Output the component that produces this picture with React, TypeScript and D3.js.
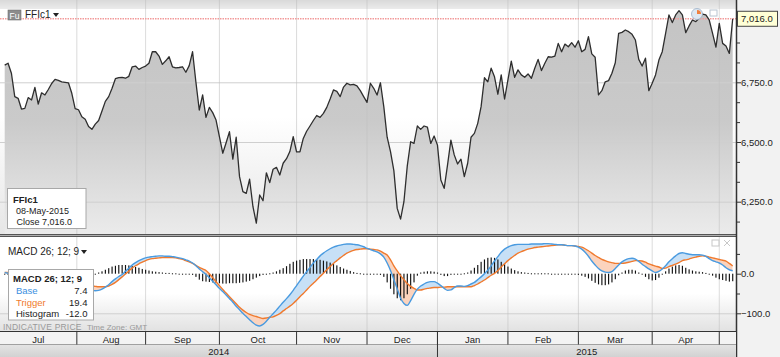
import React, { useEffect } from 'react';
import * as d3 from 'd3';

const W = 780;
const H = 357;

// FFIc1 daily close (Jul 2014 – 08 May 2015)
const price = [
  6822, 6830, 6788, 6690, 6683, 6638, 6641, 6686, 6676, 6729,
  6659, 6706, 6697, 6720, 6745, 6762, 6758, 6752, 6750, 6748,
  6704, 6640, 6635, 6606, 6595, 6565, 6553, 6575, 6590, 6630,
  6670, 6690, 6725, 6765, 6770, 6771, 6767, 6775, 6815, 6818,
  6804, 6812, 6818, 6830, 6878, 6878, 6860, 6825, 6840, 6857,
  6815, 6810, 6812, 6815, 6792, 6820, 6878, 6750, 6634, 6697,
  6603, 6645, 6623, 6592, 6522, 6453, 6497, 6543, 6428, 6520,
  6355, 6292, 6285, 6344, 6229, 6160, 6278, 6254, 6371, 6330,
  6386, 6394, 6362, 6411, 6430, 6460, 6522, 6459, 6459, 6515,
  6545, 6567, 6590, 6611, 6603, 6620, 6645, 6680, 6718, 6712,
  6690, 6730, 6746, 6739, 6741, 6735, 6715, 6690, 6666, 6746,
  6725, 6697, 6748, 6648, 6520, 6460, 6380, 6222, 6177, 6250,
  6400, 6501, 6494, 6567, 6553, 6567, 6562, 6494, 6525, 6487,
  6341, 6306, 6404, 6508, 6446, 6408, 6428, 6355, 6411, 6520,
  6536, 6578, 6648, 6769, 6752, 6809, 6773, 6700, 6781, 6680,
  6760, 6839, 6771, 6802, 6781, 6771, 6785, 6767, 6809, 6846,
  6799, 6830, 6857, 6855, 6860, 6913, 6878, 6910, 6899, 6916,
  6897, 6924, 6878, 6888, 6941, 6869, 6855, 6697, 6715, 6752,
  6757, 6788, 6832, 6955, 6959, 6969, 6962, 6951, 6927, 6846,
  6818, 6851, 6715, 6746, 6781, 6843, 6878, 6955, 7032, 7000,
  7032, 7050, 7032, 6958, 6986, 7011, 7004, 7018, 7036, 7032,
  7011, 6955, 6897, 6997, 6913, 6902, 6871, 7016,
];

const macdBase = [
  3, 1, -1, -3, -5, -6, -7, -9, -10, -12,
  -13, -14, -16, -17, -19, -20, -22, -24, -26, -28,
  -30, -32, -34, -36, -38, -40, -42, -43, -42, -39,
  -34, -28, -20, -13, -7, -2, 6, 14, 22, 28,
  33, 37, 40, 42, 43, 44, 45, 45, 44, 44,
  43, 42, 40, 38, 35, 32, 27, 20, 12, 5,
  -2, -10, -19, -28, -37, -45, -54, -63, -72, -82,
  -91, -100, -108, -116, -124, -130, -132, -128, -120, -110,
  -101, -92, -82, -72, -63, -53, -42, -30, -18, -6,
  5, 16, 27, 36, 45, 52, 58, 63, 67, 70,
  72, 74, 75, 75, 74, 73, 71, 68, 64, 61,
  58, 55, 50, 42, 27, 8, -15, -38, -62, -75,
  -80, -68, -52, -39, -31, -26, -22, -20, -20, -24,
  -30, -37, -42, -41, -35, -31, -31, -32, -30, -26,
  -22, -15, -8, 0, 9, 20, 32, 43, 54, 62,
  67, 71, 73, 74, 74, 74, 74, 75, 75, 75,
  75, 76, 76, 75, 74, 73, 73, 72, 71, 71,
  70, 67, 62, 54, 44, 32, 22, 13, 7, 4,
  3, 5, 13, 22, 30, 35, 38, 39, 37, 31,
  24, 18, 12, 7, 3, 6, 12, 20, 30, 38,
  45, 51, 53, 51, 49, 48, 48, 48, 47, 44,
  38, 33, 30, 27, 22, 15, 10, 7.4,
];

const macdTrigger = [
  3, 3, 2, 1, 1, 0, -1, -2, -2, -3,
  -4, -5, -6, -8, -9, -10, -12, -14, -16, -17,
  -19, -21, -23, -25, -27, -29, -31, -32, -33, -33,
  -33, -31, -27, -22, -15, -8, -1, 7, 14, 20,
  25, 29, 33, 36, 38, 39, 40, 41, 41, 41,
  41, 40, 38, 36, 33, 30, 26, 21, 16, 12,
  8, 0, -10, -20, -30, -40, -49, -58, -67, -76,
  -85, -92, -98, -103, -106, -108, -111, -113, -112, -110,
  -109, -105, -101, -94, -88, -82, -75, -67, -58, -50,
  -41, -32, -24, -16, -7, 1, 10, 18, 26, 33,
  40, 46, 52, 56, 59, 61, 62, 63, 63, 62,
  61, 60, 57, 52, 47, 35, 20, 7, -5, -15,
  -25, -32, -37, -41, -41, -39, -37, -36, -35, -35,
  -34, -34, -33, -33, -33, -33, -33, -33, -33, -33,
  -30, -26, -21, -16, -10, -4, 1, 8, 17, 25,
  33, 40, 46, 52, 56, 59, 62, 64, 66, 67,
  68, 69, 70, 71, 72, 73, 73, 72, 71, 71,
  70, 69, 67, 63, 58, 52, 46, 41, 36, 33,
  30, 28, 26, 26, 26, 27, 29, 31, 33, 33,
  32, 29, 25, 22, 19, 17, 13, 14, 18, 21,
  24, 28, 33, 35, 37, 40, 42, 44, 45, 44,
  42, 40, 38, 36, 34, 32, 26, 19.4,
];

const macdHist = [
  -2, -3, -4, -5, -6, -7, -8, -9, -10, -10,
  -11, -11, -12, -12, -12, -12, -12, -12, -12, -12,
  -12, -12, -11, -10, -8, -6, -4, -1, 3, 6,
  10, 14, 18, 20, 22, 22, 22, 21, 19, 17,
  15, 12, 10, 8, 6, 5, 4, 3, 2, 2,
  1, 1, 0, 0, -1, -2, -3, -8, -15, -19,
  -20, -21, -22, -23, -24, -25, -25, -24, -24, -24,
  -23, -22, -20, -18, -14, -10, -6, -3, -1, 1,
  3, 6, 10, 14, 19, 25, 30, 33, 35, 37,
  37, 37, 37, 36, 35, 33, 31, 28, 25, 21,
  17, 13, 10, 7, 4, 2, 1, 0, 0, 0,
  0, -1, -3, -8, -22, -38, -52, -62, -67, -62,
  -52, -38, -22, -5, 3, 5, 6, 6, 5, 3,
  -3, -6, -6, -3, -1, 0, 0, 1, 3, 8,
  15, 22, 30, 36, 40, 41, 40, 36, 30, 24,
  18, 13, 9, 6, 4, 3, 2, 1, 1, 1,
  1, 1, 1, 0, 0, 0, 0, 0, -1, -1,
  -2, -3, -5, -8, -12, -18, -23, -27, -29, -29,
  -27, -22, -14, -4, 3, 8, 10, 10, 8, 3,
  -2, -8, -14, -17, -16, -10, -2, 6, 13, 18,
  21, 22, 20, 15, 11, 8, 6, 5, 4, 2,
  -1, -5, -10, -14, -16, -18, -20, -19,
];

const monthLabels = ['Jul', 'Aug', 'Sep', 'Oct', 'Nov', 'Dec', 'Jan', 'Feb', 'Mar', 'Apr', ''];
const monthStartIdx = [0, 21.5, 42, 64, 87, 108, 129, 150, 171, 193, 213];
const yearLabels = ['2014', '2015'];
const yearStartIdx = [0, 129];
const priceTicks = [6250, 6500, 6750];
const priceMinorTicks = [6166.7, 6333.3, 6416.7, 6583.3, 6666.7, 6833.3, 6916.7];
const macdTicks = [0, -100];
const macdMinorTicks = [50, -50];
const lastClose = 7016;
const legendValues = { base: '7.4', trigger: '19.4', hist: '-12.0' };

const FONT = "'Liberation Sans', Arial, sans-serif";

export default function App() {
  useEffect(() => {
    document.body.style.margin = '0';
  }, []);

  const plotR = 736;
  const priceTop = 0;
  const priceBot = 234;
  const macdTop = 237;
  const macdBot = 331;
  const axisTop = 331;

  const x = d3.scaleLinear().domain([0, price.length - 1]).range([4.7, 732.7]);
  const yP = d3.scaleLinear().domain([6250, 6750]).range([201.7, 82.3]);
  const yM = d3.scaleLinear().domain([-100, 0]).range([313.3, 273.7]);

  const idx = price.map((_, i) => i);

  const priceLine = d3.line<number>().x((i) => x(i)).y((i) => yP(price[i]))(idx) || '';
  const priceArea =
    d3.area<number>().x((i) => x(i)).y0(priceBot).y1((i) => yP(price[i]))(idx) || '';

  const curve = d3.curveMonotoneX;
  const baseLine = d3.line<number>().curve(curve).x((i) => x(i)).y((i) => yM(macdBase[i]))(idx) || '';
  const trigLine = d3.line<number>().curve(curve).x((i) => x(i)).y((i) => yM(macdTrigger[i]))(idx) || '';
  const btArea =
    d3
      .area<number>()
      .curve(curve)
      .x((i) => x(i))
      .y0((i) => yM(macdTrigger[i]))
      .y1((i) => yM(macdBase[i]))(idx) || '';
  const clipAboveTrig =
    d3.area<number>().curve(curve).x((i) => x(i)).y0(macdTop).y1((i) => yM(macdTrigger[i]))(idx) || '';
  const clipBelowTrig =
    d3.area<number>().curve(curve).x((i) => x(i)).y0(macdBot).y1((i) => yM(macdTrigger[i]))(idx) || '';

  const zeroY = yM(0);
  const gridX = monthStartIdx.slice(1).map((m) => x(m));
  const monthEdges = [0, ...monthStartIdx.slice(1).map((m) => x(m)), plotR];
  const yearEdges = [0, x(yearStartIdx[1]), plotR];

  return (
    <svg
      width={W}
      height={H}
      style={{ position: 'absolute', left: 0, top: 0, display: 'block' }}
      fontFamily={FONT}
    >
      <defs>
        <linearGradient id="pbg" x1="0" y1="0" x2="0" y2="1">
          <stop offset="0" stopColor="#ffffff" />
          <stop offset="0.5" stopColor="#ffffff" />
          <stop offset="1" stopColor="#e6e6e6" />
        </linearGradient>
        <linearGradient id="parea" gradientUnits="userSpaceOnUse" x1="0" y1="10" x2="0" y2="234">
          <stop offset="0" stopColor="#c4c4c4" />
          <stop offset="0.5" stopColor="#cacaca" />
          <stop offset="1" stopColor="#ebebeb" />
        </linearGradient>
        <linearGradient id="mbg" gradientUnits="userSpaceOnUse" x1="0" y1="237" x2="0" y2="331">
          <stop offset="0" stopColor="#ffffff" />
          <stop offset="0.6" stopColor="#ffffff" />
          <stop offset="1" stopColor="#e2e2e2" />
        </linearGradient>
        <linearGradient id="hdr" x1="0" y1="0" x2="0" y2="1">
          <stop offset="0" stopColor="#d9d9d9" />
          <stop offset="1" stopColor="#ebebeb" />
        </linearGradient>
        <linearGradient id="yearbg" x1="0" y1="0" x2="0" y2="1">
          <stop offset="0" stopColor="#e4e4e4" />
          <stop offset="1" stopColor="#d2d2d2" />
        </linearGradient>
        <clipPath id="clipP">
          <rect x={0} y={priceTop} width={plotR} height={priceBot - priceTop} />
        </clipPath>
        <clipPath id="clipM">
          <rect x={0} y={macdTop} width={plotR} height={macdBot - macdTop} />
        </clipPath>
        <clipPath id="clipAbove">
          <path d={clipAboveTrig} />
        </clipPath>
        <clipPath id="clipBelow">
          <path d={clipBelowTrig} />
        </clipPath>
      </defs>

      {/* backgrounds */}
      <rect x={0} y={0} width={W} height={H} fill="#f2f2f2" />
      <rect x={0} y={priceTop} width={plotR} height={priceBot - priceTop} fill="url(#pbg)" />
      <rect x={0} y={0} width={plotR} height={9} fill="url(#hdr)" />
      <rect x={0} y={macdTop} width={plotR} height={macdBot - macdTop} fill="url(#mbg)" />

      {/* price panel */}
      <g clipPath="url(#clipP)">
        <path d={priceArea} fill="url(#parea)" />
        {priceTicks.map((t) => (
          <line key={t} x1={0} x2={plotR} y1={yP(t) + 0.5} y2={yP(t) + 0.5} stroke="#cfcfcf" strokeWidth={1} />
        ))}
        {gridX.map((gx, i) => (
          <line key={i} x1={gx} x2={gx} y1={0} y2={priceBot} stroke="#bdbdbd" strokeOpacity={0.55} strokeWidth={1} />
        ))}
        <line
          x1={0}
          x2={plotR}
          y1={yP(lastClose)}
          y2={yP(lastClose)}
          stroke="#f39a9a"
          strokeWidth={1.6}
          strokeDasharray="1.5 1"
        />
        <path d={priceLine} fill="none" stroke="#2e2e2e" strokeWidth={1.3} strokeLinejoin="round" />
      </g>

      {/* header */}
      <rect x={8} y={10} width={13} height={10} fill="#8c8c8c" stroke="#6e6e6e" strokeWidth={0.6} />
      <text x={9.5} y={18.5} fontSize={8.5} fill="#ffffff">Fu</text>
      <text x={25} y={18} fontSize={10} fill="#222">FFIc1</text>
      <path d="M53,13 L59,13 L56,17 Z" fill="#222" />

      {/* small icons on price panel */}
      <circle cx={697} cy={14} r={5.5} fill="#dfe8f2" stroke="#9ab0c8" strokeWidth={0.8} />
      <path d="M697,14 L697,10 A4,4 0 0 1 701,14 Z" fill="#f08040" />
      <rect x={710} y={10} width={7} height={6} fill="none" stroke="#b8c4d0" strokeWidth={1} />

      {/* price info box */}
      <rect x={7.5} y={188.5} width={78.5} height={40} fill="#ffffff" stroke="#a8a8a8" strokeWidth={1} />
      <text x={13} y={202.5} fontSize={9.5} fontWeight="bold" fill="#222">FFIc1</text>
      <text x={16} y={214} fontSize={9} fill="#222">08-May-2015</text>
      <text x={16.5} y={225} fontSize={9} fill="#222">Close</text>
      <text x={42} y={225} fontSize={9} fill="#222">7,016.0</text>

      {/* panel separator */}
      <line x1={0} x2={plotR} y1={234.5} y2={234.5} stroke="#555" strokeWidth={1} />
      <line x1={0} x2={plotR} y1={235.5} y2={235.5} stroke="#b0b0b0" strokeWidth={1} />
      <line x1={0} x2={plotR} y1={236.5} y2={236.5} stroke="#555" strokeWidth={1} />

      {/* MACD panel */}
      <g clipPath="url(#clipM)">
        <line x1={0} x2={plotR} y1={yM(-100) + 0.5} y2={yM(-100) + 0.5} stroke="#cfcfcf" />
        {gridX.map((gx, i) => (
          <line key={i} x1={gx} x2={gx} y1={macdTop} y2={macdBot} stroke="#bdbdbd" strokeOpacity={0.55} />
        ))}
        <path d={btArea} fill="#c7e0f6" clipPath="url(#clipAbove)" />
        <path d={btArea} fill="#fbd3bd" clipPath="url(#clipBelow)" />
        {macdHist.map((v, i) => {
          const y1 = yM(v);
          const top = Math.min(y1, zeroY);
          const h = Math.max(1, Math.abs(y1 - zeroY));
          return <rect key={i} x={x(i) - 0.55} y={top} width={1.15} height={h} fill="#111" />;
        })}
        <path d={trigLine} fill="none" stroke="#f07a2e" strokeWidth={1.4} />
        <path d={baseLine} fill="none" stroke="#4a9be0" strokeWidth={1.4} />
      </g>

      <text x={8} y={255} fontSize={10} fill="#222">MACD 26; 12; 9</text>
      <path d="M81,250 L87,250 L84,254 Z" fill="#222" />
      <rect x={712} y={240} width={7} height={6} fill="none" stroke="#c8c8c8" strokeWidth={1} />
      <path d="M724,240 L730,246 M730,240 L724,246" stroke="#c8c8c8" strokeWidth={1} />

      {/* MACD info box */}
      <rect x={8.5} y={269.5} width={85} height={50.5} fill="#ffffff" stroke="#a8a8a8" strokeWidth={1} />
      <text x={13} y={281.5} fontSize={9.5} fontWeight="bold" fill="#222">MACD 26; 12; 9</text>
      <text x={16} y={294} fontSize={9.5} fill="#3b8fe0">Base</text>
      <text x={87.5} y={294} fontSize={9.5} fill="#222" textAnchor="end">{legendValues.base}</text>
      <text x={16} y={305.5} fontSize={9.5} fill="#f07a2e">Trigger</text>
      <text x={87.5} y={305.5} fontSize={9.5} fill="#222" textAnchor="end">{legendValues.trigger}</text>
      <text x={16} y={317} fontSize={9.5} fill="#222">Histogram</text>
      <text x={87.5} y={317} fontSize={9.5} fill="#222" textAnchor="end">{legendValues.hist}</text>

      <text x={3} y={330} fontSize={8.5} fill="#999" letterSpacing={0.2}>INDICATIVE PRICE</text>
      <text x={87} y={330} fontSize={8} fill="#999">Time Zone: GMT</text>

      {/* right axis */}
      <line x1={plotR + 0.5} x2={plotR + 0.5} y1={0} y2={H} stroke="#333" strokeWidth={1.5} />
      {priceTicks.map((t) => (
        <g key={t}>
          <line x1={plotR} x2={plotR + 5} y1={yP(t) + 0.5} y2={yP(t) + 0.5} stroke="#333" />
          <text x={741} y={yP(t) + 3.5} fontSize={9.5} fill="#222">
            {d3.format(',.1f')(t)}
          </text>
        </g>
      ))}
      {priceMinorTicks.map((t) => (
        <line key={t} x1={plotR} x2={plotR + 4} y1={yP(t) + 0.5} y2={yP(t) + 0.5} stroke="#333" />
      ))}
      {macdTicks.map((t) => (
        <g key={t}>
          <line x1={plotR} x2={plotR + 5} y1={yM(t) + 0.5} y2={yM(t) + 0.5} stroke="#333" />
          <text x={741} y={yM(t) + 3.5} fontSize={9.5} fill="#222">
            {d3.format('.1f')(t)}
          </text>
        </g>
      ))}
      {macdMinorTicks.map((t) => (
        <line key={t} x1={plotR} x2={plotR + 4} y1={yM(t) + 0.5} y2={yM(t) + 0.5} stroke="#333" />
      ))}

      {/* last value tag */}
      <rect x={737.5} y={yP(lastClose) - 7.5} width={40} height={15} fill="#ffffd6" stroke="#444" strokeWidth={1} />
      <text x={741} y={yP(lastClose) + 3.5} fontSize={9.5} fill="#222">
        {d3.format(',.1f')(lastClose)}
      </text>

      {/* x axis band */}
      <rect x={0} y={axisTop} width={plotR} height={13.5} fill="#f3f3f3" />
      <rect x={0} y={axisTop + 13.5} width={plotR} height={H - axisTop - 13.5} fill="url(#yearbg)" />
      <line x1={0} x2={plotR} y1={axisTop + 0.5} y2={axisTop + 0.5} stroke="#333" strokeWidth={1.2} />
      <line x1={0} x2={plotR} y1={axisTop + 13.5} y2={axisTop + 13.5} stroke="#a0a0a0" strokeWidth={1} />
      {monthEdges.slice(1, -1).map((ex, i) => (
        <line key={i} x1={ex} x2={ex} y1={axisTop} y2={axisTop + 13.5} stroke="#333" strokeWidth={1} />
      ))}
      {monthLabels.map((m, i) =>
        m ? (
          <text
            key={m}
            x={(monthEdges[i] + monthEdges[i + 1]) / 2}
            y={342.5}
            fontSize={9.5}
            fill="#222"
            textAnchor="middle"
          >
            {m}
          </text>
        ) : null
      )}
      <line x1={yearEdges[1]} x2={yearEdges[1]} y1={axisTop} y2={H} stroke="#333" strokeWidth={1} />
      {yearLabels.map((yl, i) => (
        <text
          key={yl}
          x={(yearEdges[i] + yearEdges[i + 1]) / 2}
          y={354.5}
          fontSize={9.5}
          fill="#222"
          textAnchor="middle"
        >
          {yl}
        </text>
      ))}
    </svg>
  );
}
